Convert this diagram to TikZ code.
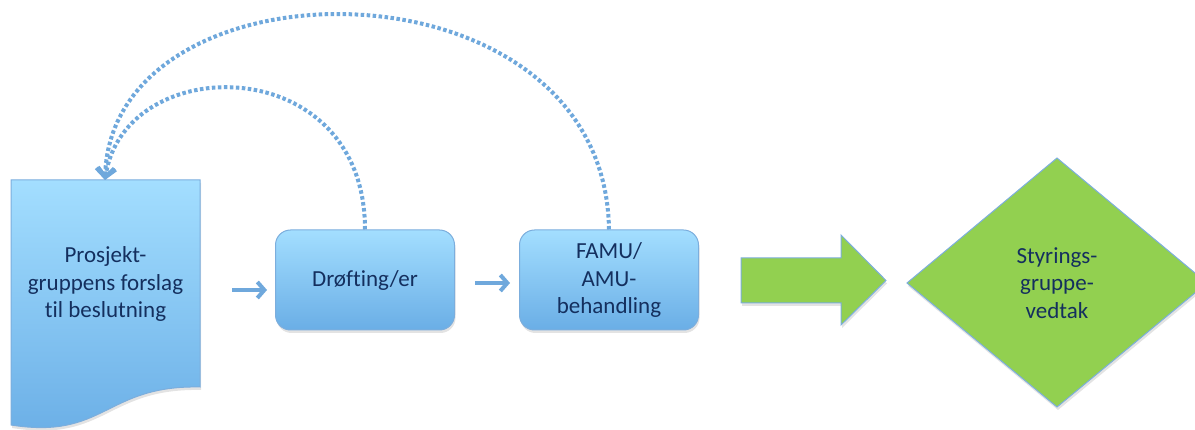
\documentclass[tikz,border=0pt]{standalone}
\usepackage{fontspec}
\setmainfont{Carlito}[Ligatures={NoCommon,NoContextual}]
\usetikzlibrary{arrows.meta,shadows}
\definecolor{txt}{HTML}{142F5E}
\definecolor{bluetop}{HTML}{A3DEFF}
\definecolor{bluebot}{HTML}{6AAEE6}
\definecolor{blueedge}{HTML}{7CAEDD}
\definecolor{conn}{HTML}{6FA8DC}
\definecolor{grn}{HTML}{92D050}
\begin{document}
\begin{tikzpicture}[x=1pt,y=-1pt,
  lbl/.style={text=txt, font=\fontsize{23}{27.5}\selectfont, align=center},
  softshadow/.style={drop shadow={opacity=0.22, shadow xshift=1pt, shadow yshift=-3pt}},
  bluebox/.style={draw=blueedge, line width=1pt, top color=bluetop, bottom color=bluebot,
    rounded corners=15pt, minimum width=179pt, minimum height=100pt, softshadow},
  smallarrow/.style={draw=conn, line width=4pt, -{Straight Barb[length=7pt,width=16pt]}},
  dotconn/.style={draw=conn, line width=4pt, dash pattern=on 3.5pt off 2.5pt,
    -{Straight Barb[length=9pt,width=18pt]}},
  greenshape/.style={fill=grn, draw=blueedge, line width=1pt, softshadow},
]
\useasboundingbox (0,0) rectangle (1195,430);

% document shape
\path[draw=blueedge, line width=1pt, top color=bluetop, bottom color=bluebot, softshadow]
  (11,180) -- (200,180) -- (200,387) .. controls (105,385) and (105,440) .. (11,425) -- cycle;
\node[lbl] (doc) at (105.5,284) {Prosjekt-\\gruppens forslag\\til beslutning};
\coordinate (doctop) at (105,180);

% boxes
\node[bluebox, lbl] (d1) at (365,280) {Drøfting/er};
\node[bluebox, lbl] (d2) at (609,280) {FAMU/\\AMU-\\behandling};

% small arrows
\coordinate (a1s) at (232,290);
\coordinate (a1e) at (267,290);
\coordinate (a2s) at (475,283);
\coordinate (a2e) at (510,283);
\draw[smallarrow] (a1s) -- (a1e);
\draw[smallarrow] (a2s) -- (a2e);

% dotted feedback connectors
\draw[dotconn] (d1.north) .. controls (365,50) and (125,50) .. (doctop);
\draw[dotconn] (d2.north) .. controls (605,-48) and (112,-48) .. (doctop);

% green block arrow
\path[greenshape] (741,258) -- (841,258) -- (841,235) -- (886,280.5) -- (841,325) -- (841,303) -- (741,303) -- cycle;

% decision diamond
\path[greenshape] (907,283) -- (1057,158) -- (1207,283) -- (1057,407) -- cycle;
\node[lbl] (vedtak) at (1057,283) {Styrings-\\gruppe-\\vedtak};
\end{tikzpicture}
\end{document}
